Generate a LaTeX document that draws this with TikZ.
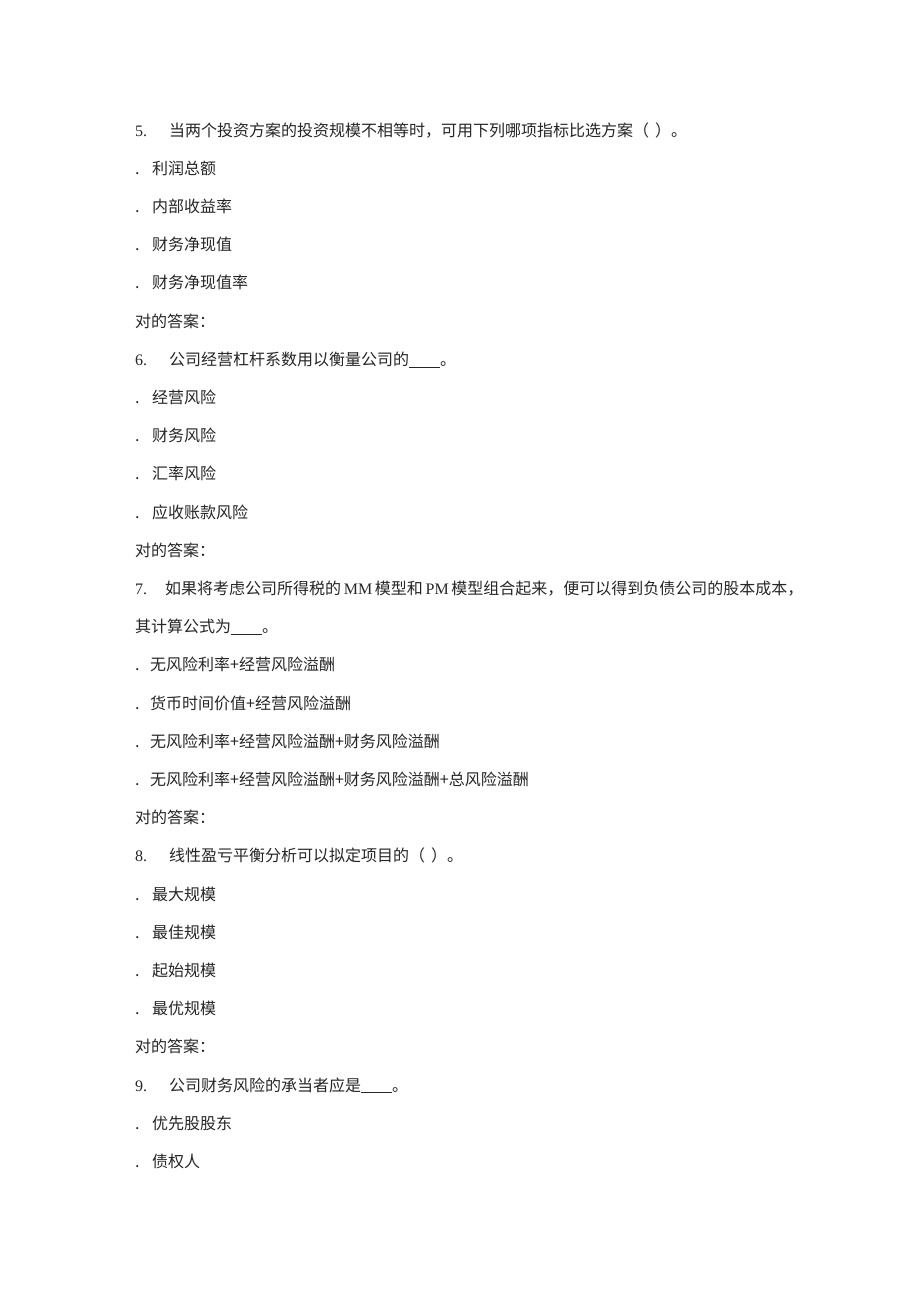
\documentclass[tikz,border=0pt]{standalone}
\usepackage{fontspec}
\newfontfamily\cjk{Noto Sans CJK SC}
\newfontfamily\lat{Liberation Serif}
\newcommand{\blank}{\rule[-2pt]{31pt}{0.7pt}}
\newcommand{\qn}[1]{\makebox[34pt][l]{\lat #1}}
\newcommand{\op}{\makebox[17pt][l]{.}}
\newcommand{\prn}{\makebox[16pt][r]{（}\hspace{6pt}\makebox[16pt][l]{）}}
\tikzset{
  ln/.style={anchor=base west, inner sep=0pt, text=black!85,
    font=\cjk\fontsize{16pt}{16pt}\selectfont}
}
\begin{document}
\begin{tikzpicture}[x=1pt,y=-1pt]
\useasboundingbox[fill=white] (0,0) rectangle (920,1302);
% baselines: 136 + 38.2k
\node[ln] (q5)  at (135,136.0) {\qn{5.}当两个投资方案的投资规模不相等时，可用下列哪项指标比选方案\prn 。};
\node[ln] (q5a) at (135,174.2) {\op 利润总额};
\node[ln] (q5b) at (135,212.4) {\op 内部收益率};
\node[ln] (q5c) at (135,250.6) {\op 财务净现值};
\node[ln] (q5d) at (135,288.8) {\op 财务净现值率};
\node[ln] (q5r) at (135,327.0) {对的答案：};
\node[ln] (q6)  at (135,365.2) {\qn{6.}公司经营杠杆系数用以衡量公司的\blank。};
\node[ln] (q6a) at (135,403.4) {\op 经营风险};
\node[ln] (q6b) at (135,441.6) {\op 财务风险};
\node[ln] (q6c) at (135,479.8) {\op 汇率风险};
\node[ln] (q6d) at (135,518.0) {\op 应收账款风险};
\node[ln] (q6r) at (135,556.2) {对的答案：};
\node[ln] (q7)  at (135,594.4) {\makebox[30pt][l]{\lat 7.}如果将考虑公司所得税的{\lat\,MM\,}模型和{\lat\,PM\,}模型组合起来，便可以得到负债公司的股本成本，};
\node[ln] (q7l) at (135,632.6) {其计算公式为\blank。};
\node[ln] (q7a) at (135,670.8) {\makebox[15pt][l]{.}无风险利率+经营风险溢酬};
\node[ln] (q7b) at (135,709.0) {\makebox[15pt][l]{.}货币时间价值+经营风险溢酬};
\node[ln] (q7c) at (135,747.2) {\makebox[15pt][l]{.}无风险利率+经营风险溢酬+财务风险溢酬};
\node[ln] (q7d) at (135,785.4) {\makebox[15pt][l]{.}无风险利率+经营风险溢酬+财务风险溢酬+总风险溢酬};
\node[ln] (q7r) at (135,823.6) {对的答案：};
\node[ln] (q8)  at (135,861.8) {\qn{8.}线性盈亏平衡分析可以拟定项目的\prn 。};
\node[ln] (q8a) at (135,900.0) {\op 最大规模};
\node[ln] (q8b) at (135,938.2) {\op 最佳规模};
\node[ln] (q8c) at (135,976.4) {\op 起始规模};
\node[ln] (q8d) at (135,1014.6) {\op 最优规模};
\node[ln] (q8r) at (135,1052.8) {对的答案：};
\node[ln] (q9)  at (135,1091.0) {\qn{9.}公司财务风险的承当者应是\blank。};
\node[ln] (q9a) at (135,1129.2) {\op 优先股股东};
\node[ln] (q9b) at (135,1167.4) {\op 债权人};
\end{tikzpicture}
\end{document}
